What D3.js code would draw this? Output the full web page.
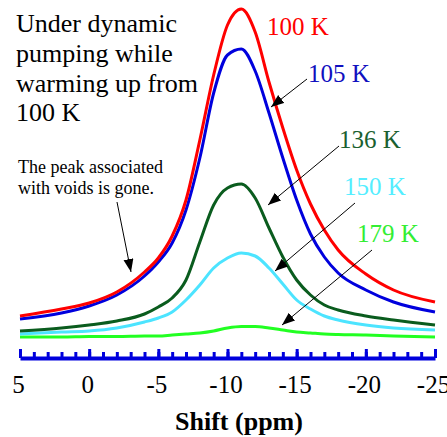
<!DOCTYPE html>
<html>
<head>
<meta charset="utf-8">
<script src="https://cdn.jsdelivr.net/npm/d3@7"></script>
<style>
  body { margin: 0; background: #fff; }
  svg { font-family: "Liberation Serif", "Times New Roman", serif; }
</style>
</head>
<body>
<svg width="447" height="437"></svg>
<script>
// chemical shift grid (ppm), shared by all spectra
const shift = [5, 2, 0, -2, -4, -5, -6, -7, -8, -9, -10, -11, -12, -13, -14, -15, -16, -17, -18, -20, -22, -25];

// intensities (arbitrary units)
const k100 = [24, 31, 37, 48, 68, 82, 104, 140, 200, 265, 315, 331, 308, 258, 212, 170, 136, 110, 90, 66, 50, 38];
const k105 = [21, 27, 34, 45, 64, 78, 97, 130, 182, 247, 285, 291, 269, 227, 182, 140, 106, 83, 67, 50, 38, 28];
const k136 = [9, 12, 15, 19, 26, 33, 42, 60, 98, 135, 152, 156, 142, 112, 83, 60, 45, 35, 30, 24, 20, 15];
const k150 = [6, 8, 9, 12, 18, 22, 28, 40, 55, 72, 82, 87, 84, 72, 56, 40, 31, 24, 20, 15, 12, 10];
const k179 = [3, 3, 3.5, 3.5, 4, 4, 5, 6, 7, 9, 12, 13.5, 13.5, 12, 10, 8, 7, 6, 5.5, 5, 4, 3];

const majorTicks = [5, 0, -5, -10, -15, -20, -25];
const minorTicks = d3.range(5, -26, -1);

const series = [
  {name: '179 K', values: k179, color: '#22ff22', text: '#33ee33', label: [357, 242], arrow: [372, 250, 282, 325]},
  {name: '150 K', values: k150, color: '#4ce4ff', text: '#55eeff', label: [344, 195], arrow: [355, 203, 275, 271]},
  {name: '136 K', values: k136, color: '#0a5c1e', text: '#1a6030', label: [339, 148], arrow: [339, 146, 268, 205]},
  {name: '105 K', values: k105, color: '#0000dd', text: '#1010c0', label: [308, 82], arrow: [307, 79, 271, 107]},
  {name: '100 K', values: k100, color: '#ff0000', text: '#ff0000', label: [267, 35], arrow: null}
];

const svg = d3.select('svg');

const x = d3.scaleLinear().domain([5, -25]).range([20, 435]);
const y = d3.scaleLinear().domain([0, 340]).range([340, 0]);

svg.append('defs').append('marker')
  .attr('id', 'head')
  .attr('markerUnits', 'userSpaceOnUse')
  .attr('markerWidth', 14).attr('markerHeight', 12)
  .attr('refX', 13).attr('refY', 5)
  .attr('orient', 'auto')
  .append('path')
  .attr('d', 'M0,0 L13,5 L0,10 Z')
  .attr('fill', '#000');

const line = d3.line()
  .x((d, i) => x(shift[i]))
  .y(d => y(d))
  .curve(d3.curveMonotoneX);

svg.append('g').selectAll('path')
  .data(series)
  .join('path')
  .attr('d', d => line(d.values))
  .attr('fill', 'none')
  .attr('stroke', d => d.color)
  .attr('stroke-width', 3)
  .attr('stroke-linejoin', 'round');

// axis: ticks pointing up, labels below
const axisY = 358;
svg.append('g')
  .attr('transform', `translate(0,${axisY})`)
  .call(d3.axisTop(x).tickValues(minorTicks).tickSize(6).tickFormat(''))
  .call(g => g.select('.domain').remove())
  .call(g => g.selectAll('line').attr('stroke', '#0000dd').attr('stroke-width', 3));

svg.append('g')
  .attr('transform', `translate(0,${axisY})`)
  .call(d3.axisTop(x).tickValues(majorTicks).tickSize(9).tickSizeOuter(0).tickFormat(''))
  .call(g => g.select('.domain').attr('stroke', '#0000dd').attr('stroke-width', 4))
  .call(g => g.selectAll('line').attr('stroke', '#0000dd').attr('stroke-width', 3));

svg.append('g')
  .attr('transform', `translate(0,${axisY})`)
  .call(d3.axisBottom(x).tickValues(majorTicks).tickSize(0).tickFormat(d => String(d)))
  .call(g => g.select('.domain').remove())
  .call(g => g.selectAll('text')
    .attr('y', 35).attr('dy', 0).attr('dx', -2)
    .attr('fill', '#000')
    .style('font-family', '"Liberation Serif", "Times New Roman", serif')
    .style('font-size', '25px'));

svg.append('text')
  .attr('x', 239).attr('y', 430)
  .attr('text-anchor', 'middle')
  .style('font-size', '26px').style('font-weight', 'bold')
  .text('Shift (ppm)');

// title block
const title = ['Under dynamic', 'pumping while', 'warming up from', '100 K'];
svg.append('g').selectAll('text')
  .data(title)
  .join('text')
  .attr('x', 16)
  .attr('y', (d, i) => 32 + i * 29.8)
  .style('font-size', '26px')
  .text(d => d);

// note about the voids peak
const note = ['The peak associated', 'with voids is gone.'];
svg.append('g').selectAll('text')
  .data(note)
  .join('text')
  .attr('x', 18)
  .attr('y', (d, i) => 173 + i * 21)
  .style('font-size', '18px')
  .text(d => d);

svg.append('line')
  .attr('x1', 117).attr('y1', 202).attr('x2', 131).attr('y2', 272)
  .attr('stroke', '#000').attr('stroke-width', 1)
  .attr('marker-end', 'url(#head)');

// temperature labels and arrows
svg.append('g').selectAll('text')
  .data(series)
  .join('text')
  .attr('x', d => d.label[0])
  .attr('y', d => d.label[1])
  .attr('fill', d => d.text)
  .style('font-size', '25px')
  .text(d => d.name);

svg.append('g').selectAll('line')
  .data(series.filter(d => d.arrow))
  .join('line')
  .attr('x1', d => d.arrow[0]).attr('y1', d => d.arrow[1])
  .attr('x2', d => d.arrow[2]).attr('y2', d => d.arrow[3])
  .attr('stroke', '#000').attr('stroke-width', 1)
  .attr('marker-end', 'url(#head)');
</script>
</body>
</html>
